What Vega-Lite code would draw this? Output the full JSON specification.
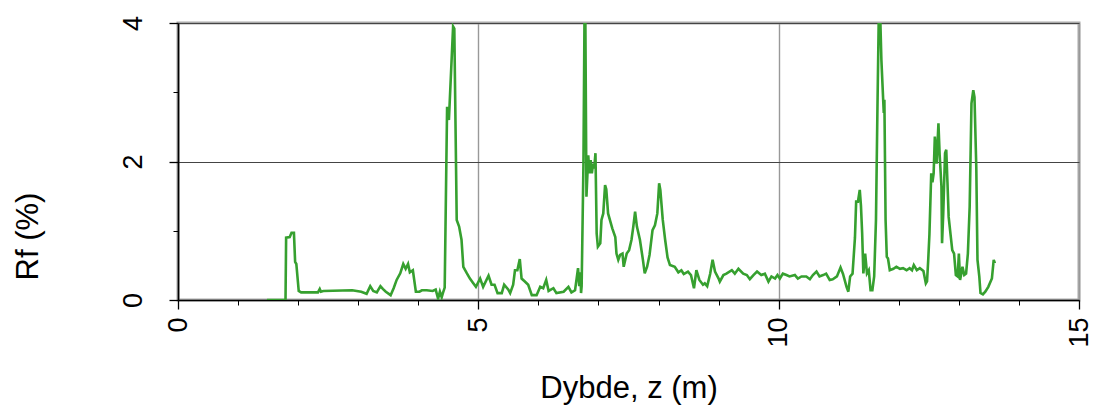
{
  "$schema": "https://vega.github.io/schema/vega-lite/v6.json",
  "width": 901,
  "height": 277,
  "autosize": "none",
  "padding": {"left": 178, "top": 23, "right": 17, "bottom": 110},
  "config": {
    "font": "Liberation Sans",
    "view": {"stroke": "#aaaaaa", "strokeWidth": 3}
  },
  "data": {"values": [
    {"z":1.48,"rf":0},{"z":1.79,"rf":0},{"z":1.80,"rf":0.90},{"z":1.86,"rf":0.91},{"z":1.89,"rf":0.97},{"z":1.93,"rf":0.97},{"z":1.95,"rf":0.55},{"z":1.97,"rf":0.52},{"z":2.01,"rf":0.13},{"z":2.05,"rf":0.11},{"z":2.33,"rf":0.11},{"z":2.36,"rf":0.16},{"z":2.38,"rf":0.12},{"z":2.42,"rf":0.13},{"z":2.90,"rf":0.14},{"z":3.05,"rf":0.12},{"z":3.14,"rf":0.09},{"z":3.20,"rf":0.20},{"z":3.25,"rf":0.13},{"z":3.31,"rf":0.11},{"z":3.37,"rf":0.20},{"z":3.41,"rf":0.16},{"z":3.46,"rf":0.12},{"z":3.54,"rf":0.07},{"z":3.59,"rf":0.17},{"z":3.64,"rf":0.29},{"z":3.70,"rf":0.385},{"z":3.75,"rf":0.52},{"z":3.79,"rf":0.45},{"z":3.83,"rf":0.52},{"z":3.86,"rf":0.40},{"z":3.91,"rf":0.43},{"z":3.96,"rf":0.12},{"z":4.02,"rf":0.12},{"z":4.06,"rf":0.14},{"z":4.14,"rf":0.14},{"z":4.24,"rf":0.13},{"z":4.29,"rf":0.15},{"z":4.33,"rf":0.02},{"z":4.36,"rf":0.12},{"z":4.39,"rf":0.04},{"z":4.41,"rf":0.10},{"z":4.44,"rf":0.18},{"z":4.48,"rf":2.79},{"z":4.51,"rf":2.60},{"z":4.58,"rf":3.95},{"z":4.60,"rf":3.92},{"z":4.64,"rf":1.155},{"z":4.68,"rf":1.06},{"z":4.72,"rf":0.87},{"z":4.75,"rf":0.48},{"z":4.81,"rf":0.385},{"z":4.86,"rf":0.31},{"z":4.91,"rf":0.25},{"z":4.96,"rf":0.19},{"z":5.03,"rf":0.31},{"z":5.08,"rf":0.19},{"z":5.17,"rf":0.35},{"z":5.22,"rf":0.22},{"z":5.27,"rf":0.22},{"z":5.32,"rf":0.10},{"z":5.39,"rf":0.10},{"z":5.43,"rf":0.22},{"z":5.50,"rf":0.15},{"z":5.53,"rf":0.10},{"z":5.58,"rf":0.22},{"z":5.61,"rf":0.43},{"z":5.65,"rf":0.43},{"z":5.69,"rf":0.59},{"z":5.72,"rf":0.31},{"z":5.77,"rf":0.27},{"z":5.83,"rf":0.22},{"z":5.89,"rf":0.07},{"z":5.97,"rf":0.07},{"z":6.03,"rf":0.19},{"z":6.08,"rf":0.17},{"z":6.13,"rf":0.29},{"z":6.17,"rf":0.13},{"z":6.25,"rf":0.17},{"z":6.30,"rf":0.10},{"z":6.42,"rf":0.12},{"z":6.50,"rf":0.19},{"z":6.55,"rf":0.11},{"z":6.61,"rf":0.14},{"z":6.66,"rf":0.46},{"z":6.68,"rf":0.20},{"z":6.70,"rf":0.40},{"z":6.71,"rf":0.10},{"z":6.72,"rf":0.20},{"z":6.75,"rf":1.97},{"z":6.775,"rf":5.0},{"z":6.80,"rf":1.49},{"z":6.83,"rf":2.09},{"z":6.85,"rf":1.83},{"z":6.87,"rf":2.02},{"z":6.89,"rf":1.83},{"z":6.91,"rf":1.97},{"z":6.93,"rf":1.90},{"z":6.95,"rf":2.12},{"z":6.97,"rf":0.96},{"z":6.99,"rf":0.77},{"z":7.03,"rf":0.82},{"z":7.05,"rf":1.155},{"z":7.08,"rf":1.25},{"z":7.11,"rf":1.66},{"z":7.13,"rf":1.60},{"z":7.16,"rf":1.25},{"z":7.23,"rf":1.035},{"z":7.28,"rf":0.91},{"z":7.30,"rf":0.67},{"z":7.33,"rf":0.58},{"z":7.36,"rf":0.65},{"z":7.40,"rf":0.67},{"z":7.42,"rf":0.48},{"z":7.47,"rf":0.67},{"z":7.51,"rf":0.72},{"z":7.55,"rf":0.87},{"z":7.58,"rf":1.06},{"z":7.61,"rf":1.275},{"z":7.64,"rf":1.06},{"z":7.69,"rf":0.87},{"z":7.74,"rf":0.58},{"z":7.77,"rf":0.385},{"z":7.81,"rf":0.48},{"z":7.85,"rf":0.65},{"z":7.90,"rf":1.01},{"z":7.94,"rf":1.08},{"z":7.98,"rf":1.25},{"z":8.01,"rf":1.685},{"z":8.03,"rf":1.59},{"z":8.07,"rf":1.16},{"z":8.11,"rf":0.87},{"z":8.15,"rf":0.615},{"z":8.19,"rf":0.505},{"z":8.27,"rf":0.48},{"z":8.33,"rf":0.40},{"z":8.38,"rf":0.43},{"z":8.42,"rf":0.375},{"z":8.49,"rf":0.41},{"z":8.54,"rf":0.36},{"z":8.59,"rf":0.17},{"z":8.63,"rf":0.43},{"z":8.68,"rf":0.29},{"z":8.74,"rf":0.22},{"z":8.77,"rf":0.24},{"z":8.81,"rf":0.20},{"z":8.86,"rf":0.38},{"z":8.90,"rf":0.58},{"z":8.94,"rf":0.41},{"z":9.00,"rf":0.31},{"z":9.02,"rf":0.265},{"z":9.08,"rf":0.36},{"z":9.13,"rf":0.38},{"z":9.22,"rf":0.43},{"z":9.27,"rf":0.38},{"z":9.33,"rf":0.45},{"z":9.41,"rf":0.38},{"z":9.47,"rf":0.36},{"z":9.52,"rf":0.30},{"z":9.58,"rf":0.36},{"z":9.64,"rf":0.41},{"z":9.71,"rf":0.36},{"z":9.77,"rf":0.38},{"z":9.83,"rf":0.265},{"z":9.88,"rf":0.34},{"z":9.94,"rf":0.31},{"z":9.98,"rf":0.36},{"z":10.02,"rf":0.31},{"z":10.07,"rf":0.38},{"z":10.13,"rf":0.36},{"z":10.18,"rf":0.34},{"z":10.27,"rf":0.36},{"z":10.32,"rf":0.31},{"z":10.38,"rf":0.34},{"z":10.46,"rf":0.34},{"z":10.52,"rf":0.30},{"z":10.57,"rf":0.36},{"z":10.63,"rf":0.41},{"z":10.68,"rf":0.34},{"z":10.74,"rf":0.36},{"z":10.79,"rf":0.38},{"z":10.85,"rf":0.29},{"z":10.90,"rf":0.30},{"z":10.97,"rf":0.34},{"z":11.03,"rf":0.47},{"z":11.07,"rf":0.38},{"z":11.13,"rf":0.19},{"z":11.16,"rf":0.12},{"z":11.19,"rf":0.34},{"z":11.23,"rf":0.38},{"z":11.27,"rf":0.90},{"z":11.29,"rf":1.42},{"z":11.32,"rf":1.42},{"z":11.35,"rf":1.59},{"z":11.37,"rf":1.36},{"z":11.39,"rf":0.96},{"z":11.41,"rf":0.385},{"z":11.44,"rf":0.67},{"z":11.47,"rf":0.385},{"z":11.50,"rf":0.43},{"z":11.53,"rf":0.14},{"z":11.56,"rf":0.14},{"z":11.59,"rf":0.34},{"z":11.62,"rf":1.155},{"z":11.645,"rf":2.8},{"z":11.675,"rf":4.6},{"z":11.71,"rf":3.47},{"z":11.74,"rf":2.89},{"z":11.75,"rf":2.70},{"z":11.76,"rf":2.89},{"z":11.78,"rf":1.155},{"z":11.80,"rf":0.625},{"z":11.82,"rf":0.60},{"z":11.85,"rf":0.43},{"z":11.91,"rf":0.45},{"z":11.96,"rf":0.48},{"z":12.02,"rf":0.45},{"z":12.07,"rf":0.46},{"z":12.13,"rf":0.43},{"z":12.18,"rf":0.46},{"z":12.22,"rf":0.43},{"z":12.25,"rf":0.505},{"z":12.30,"rf":0.43},{"z":12.35,"rf":0.46},{"z":12.41,"rf":0.42},{"z":12.45,"rf":0.24},{"z":12.47,"rf":0.27},{"z":12.49,"rf":0.58},{"z":12.51,"rf":0.95},{"z":12.54,"rf":1.83},{"z":12.56,"rf":1.70},{"z":12.58,"rf":1.83},{"z":12.60,"rf":2.36},{"z":12.63,"rf":1.97},{"z":12.66,"rf":2.55},{"z":12.68,"rf":2.10},{"z":12.71,"rf":1.64},{"z":12.72,"rf":0.82},{"z":12.74,"rf":1.25},{"z":12.77,"rf":2.12},{"z":12.79,"rf":2.17},{"z":12.81,"rf":1.70},{"z":12.83,"rf":1.20},{"z":12.86,"rf":0.96},{"z":12.89,"rf":0.72},{"z":12.92,"rf":0.67},{"z":12.95,"rf":0.36},{"z":12.98,"rf":0.34},{"z":13.00,"rf":0.67},{"z":13.02,"rf":0.29},{"z":13.04,"rf":0.38},{"z":13.06,"rf":0.48},{"z":13.09,"rf":0.36},{"z":13.12,"rf":0.38},{"z":13.15,"rf":0.67},{"z":13.18,"rf":1.35},{"z":13.21,"rf":2.84},{"z":13.24,"rf":3.03},{"z":13.26,"rf":2.93},{"z":13.29,"rf":1.92},{"z":13.31,"rf":0.58},{"z":13.34,"rf":0.34},{"z":13.36,"rf":0.10},{"z":13.40,"rf":0.08},{"z":13.44,"rf":0.12},{"z":13.49,"rf":0.19},{"z":13.55,"rf":0.31},{"z":13.58,"rf":0.58},{"z":13.60,"rf":0.53}
  ]},
  "layer": [
    {
      "mark": {"type": "line", "color": "#36a02f", "strokeWidth": 2.6, "clip": true},
      "encoding": {
        "x": {
          "field": "z", "type": "quantitative",
          "scale": {"domain": [0, 15], "nice": false, "zero": false},
          "axis": {
            "values": [0, 5, 10, 15], "grid": true, "gridColor": "#999999", "gridWidth": 1.4,
            "domainColor": "#000000", "domainWidth": 1.6, "tickColor": "#000000", "tickWidth": 1.3, "tickSize": 9,
            "labelAngle": 270, "labelFontSize": 27, "labelColor": "#000000", "labelPadding": 8,
            "title": "Dybde, z (m)", "titleFontSize": 31, "titleFontWeight": "normal", "titleColor": "#000000", "titlePadding": 26
          }
        },
        "y": {
          "field": "rf", "type": "quantitative",
          "scale": {"domain": [0, 4], "nice": false},
          "axis": {
            "values": [0, 2, 4], "grid": true, "gridColor": "#444444", "gridWidth": 1,
            "domainColor": "#000000", "domainWidth": 1.6, "tickColor": "#000000", "tickWidth": 1.3, "tickSize": 9,
            "labelAngle": 270, "labelFontSize": 27, "labelColor": "#000000", "labelPadding": 22,
            "title": "Rf (%)", "titleFontSize": 31, "titleFontWeight": "normal", "titleColor": "#000000",
            "titleX": -150, "titleY": 213, "titleAngle": 270, "titleAlign": "center", "titleBaseline": "middle"
          }
        }
      }
    },
    {
      "mark": {"type": "point", "opacity": 0},
      "encoding": {
        "x": {
          "field": "z", "type": "quantitative",
          "axis": {"orient": "bottom", "values": [1,2,3,4,6,7,8,9,11,12,13,14], "grid": false, "domain": false, "labels": false, "title": null, "tickColor": "#000000", "tickWidth": 1, "tickSize": 5}
        },
        "y": {
          "field": "rf", "type": "quantitative",
          "axis": {"orient": "left", "values": [1, 3], "grid": false, "domain": false, "labels": false, "title": null, "tickColor": "#000000", "tickWidth": 1, "tickSize": 5}
        }
      }
    }
  ],
  "resolve": {"axis": {"x": "independent", "y": "independent"}}
}
